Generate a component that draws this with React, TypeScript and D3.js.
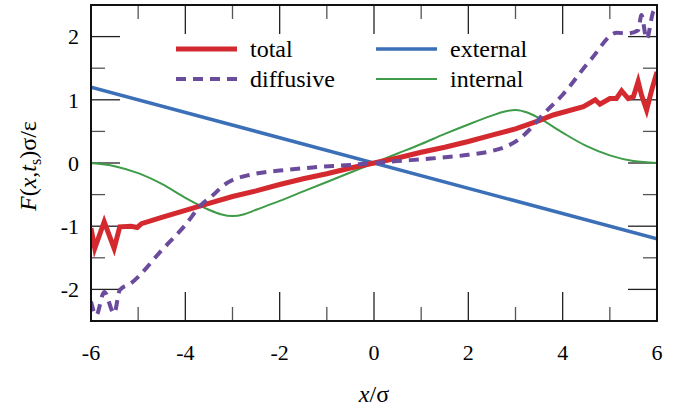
import React from "react";
import * as d3 from "d3";

// ---- data ----
const xMajorTicks = [-6, -4, -2, 0, 2, 4, 6];
const xMinorTicks = [-5, -3, -1, 1, 3, 5];
const yMajorTicks = [-2, -1, 0, 1, 2];
const yMinorTicks = [-1.5, -0.5, 0.5, 1.5];
const xTickLabels = ["-6", "-4", "-2", "0", "2", "4", "6"];
const yTickLabels = ["-2", "-1", "0", "1", "2"];

const externalX = [-6, 6];
const externalY = [1.2, -1.2];

const internalX = [-6, -5.5, -5, -4.5, -4, -3.5, -3.25, -3, -2.75, -2.5, -2, -1.5, -1, -0.5, 0, 0.5, 1, 1.5, 2, 2.5, 2.75, 3, 3.25, 3.5, 4, 4.5, 5, 5.5, 6];
const internalY = [0, -0.05, -0.16, -0.33, -0.55, -0.74, -0.81, -0.84, -0.81, -0.74, -0.6, -0.45, -0.3, -0.15, 0, 0.15, 0.3, 0.46, 0.61, 0.75, 0.81, 0.84, 0.8, 0.71, 0.48, 0.27, 0.12, 0.03, 0];

const totalX = [-6, -5.92, -5.72, -5.51, -5.39, -5.15, -5.02, -4.93, -4.5, -4, -3.5, -3, -2.5, -2, -1.5, -1, -0.5, 0, 0.5, 1, 1.5, 2, 2.5, 3, 3.5, 3.8, 4.44, 4.69, 4.79, 5.0, 5.14, 5.25, 5.39, 5.5, 5.6, 5.67, 5.78, 5.89, 6];
const totalY = [-1.03, -1.35, -0.93, -1.35, -1.01, -1.0, -1.02, -0.96, -0.86, -0.75, -0.64, -0.53, -0.44, -0.34, -0.25, -0.17, -0.08, 0, 0.08, 0.17, 0.25, 0.34, 0.44, 0.54, 0.67, 0.76, 0.89, 1.0, 0.93, 1.02, 1.02, 1.14, 1.02, 1.05, 1.29, 1.08, 0.84, 1.16, 1.44];

const diffusiveX = [-6, -5.89, -5.72, -5.51, -5.39, -5.15, -4.5, -4, -3.66, -3.4, -3.2, -3, -2.7, -2.35, -2, -1.3, -0.5, 0, 0.5, 1.2, 2, 2.5, 2.8, 3.1, 3.3, 3.6, 4, 4.6, 5.15, 5.39, 5.6, 5.67, 5.78, 5.92, 6];
const diffusiveY = [-2.19, -2.41, -2.04, -2.38, -2.01, -1.9, -1.38, -0.98, -0.66, -0.5, -0.36, -0.27, -0.2, -0.15, -0.12, -0.07, -0.03, 0, 0.03, 0.07, 0.13, 0.19, 0.26, 0.39, 0.53, 0.78, 1.08, 1.64, 2.06, 2.05, 2.1, 2.34, 1.96, 2.39, 2.45];

const seriesNames = ["total", "diffusive", "external", "internal"];

const W = 687;
const H = 414;
const left = 91, right = 657, top = 5, bottom = 321;
const serif = "serif";

const styles: Record<string, { color: string; width: number; dash?: string }> = {
  total: { color: "#d42a2f", width: 5 },
  diffusive: { color: "#6a4b9c", width: 4, dash: "10,7" },
  external: { color: "#3b6fb7", width: 3.5 },
  internal: { color: "#3e9b48", width: 2 },
};

const x = d3.scaleLinear().domain([-6, 6]).range([left, right]);
const y = d3.scaleLinear().domain([-2.5, 2.5]).range([bottom, top]);

const line = d3.line<[number, number]>().x(d => x(d[0])).y(d => y(d[1]));
const smooth = d3.line<[number, number]>().x(d => x(d[0])).y(d => y(d[1])).curve(d3.curveMonotoneX);
const zip = (xs: number[], ys: number[]) => xs.map((v, i) => [v, ys[i]] as [number, number]);

const series = [
  { name: "external", d: line(zip(externalX, externalY)) },
  { name: "internal", d: smooth(zip(internalX, internalY)) },
  { name: "total", d: line(zip(totalX, totalY)) },
  { name: "diffusive", d: smooth(zip(diffusiveX, diffusiveY)) },
];

const legendPos = [[176, 49], [176, 79], [376, 49], [376, 79]];

const App = () => {
  const ticks: JSX.Element[] = [];
  const addV = (v: number, len: number, col: string, k: string) => {
    ticks.push(<line key={k + "b"} x1={x(v)} x2={x(v)} y1={bottom} y2={bottom - len} stroke={col} strokeWidth={1.3} />);
    ticks.push(<line key={k + "t"} x1={x(v)} x2={x(v)} y1={top} y2={top + len} stroke={col} strokeWidth={1.3} />);
  };
  const addH = (v: number, len: number, col: string, k: string) => {
    ticks.push(<line key={k + "l"} y1={y(v)} y2={y(v)} x1={left} x2={left + len} stroke={col} strokeWidth={1.3} />);
    ticks.push(<line key={k + "r"} y1={y(v)} y2={y(v)} x1={right} x2={right - len} stroke={col} strokeWidth={1.3} />);
  };
  xMajorTicks.forEach(v => addV(v, 29, "#222", "xM" + v));
  xMinorTicks.forEach(v => addV(v, 14, "#555", "xm" + v));
  yMajorTicks.forEach(v => addH(v, 29, "#222", "yM" + v));
  yMinorTicks.forEach(v => addH(v, 14, "#555", "ym" + v));

  return (
    <svg width={W} height={H} style={{ position: "absolute", left: 0, top: 0, background: "#fff" }}>
      <defs>
        <clipPath id="plot-clip">
          <rect x={left} y={top} width={right - left} height={bottom - top} />
        </clipPath>
      </defs>

      {ticks}

      {xMajorTicks.map((v, i) => (
        <text key={"xl" + v} x={x(v)} y={360} textAnchor="middle" fontSize={22} style={{ fontFamily: serif }}>
          {xTickLabels[i]}
        </text>
      ))}
      {yMajorTicks.map((v, i) => (
        <text key={"yl" + v} x={79} y={y(v) + 7.7} textAnchor="end" fontSize={22} style={{ fontFamily: serif }}>
          {yTickLabels[i]}
        </text>
      ))}

      <g clipPath="url(#plot-clip)">
        {series.map(s => (
          <path key={s.name} d={s.d || ""} fill="none" stroke={styles[s.name].color}
            strokeWidth={styles[s.name].width} strokeDasharray={styles[s.name].dash} />
        ))}
      </g>

      <rect x={left} y={top} width={right - left} height={bottom - top} fill="none" stroke="#111" strokeWidth={2} />

      {seriesNames.map((name, i) => {
        const [lx, ly] = legendPos[i];
        const s = styles[name];
        return (
          <g key={name}>
            <line x1={lx} x2={lx + 61} y1={ly} y2={ly} stroke={s.color} strokeWidth={s.width} strokeDasharray={s.dash} />
            <text x={lx + 74} y={ly + 7.5} fontSize={24} style={{ fontFamily: serif }}>{name}</text>
          </g>
        );
      })}

      <text x={374} y={402} textAnchor="middle" fontSize={24} style={{ fontFamily: serif }}>
        <tspan fontStyle="italic">x</tspan>/σ
      </text>

      <text transform="translate(36,166) rotate(-90)" textAnchor="middle" fontSize={24} style={{ fontFamily: serif }}>
        <tspan fontStyle="italic">F</tspan>(<tspan fontStyle="italic">x</tspan>,<tspan fontStyle="italic">t</tspan>
        <tspan dy={5} fontSize={16}>s</tspan>
        <tspan dy={-5}>)σ/ε</tspan>
      </text>
    </svg>
  );
};

export default App;
